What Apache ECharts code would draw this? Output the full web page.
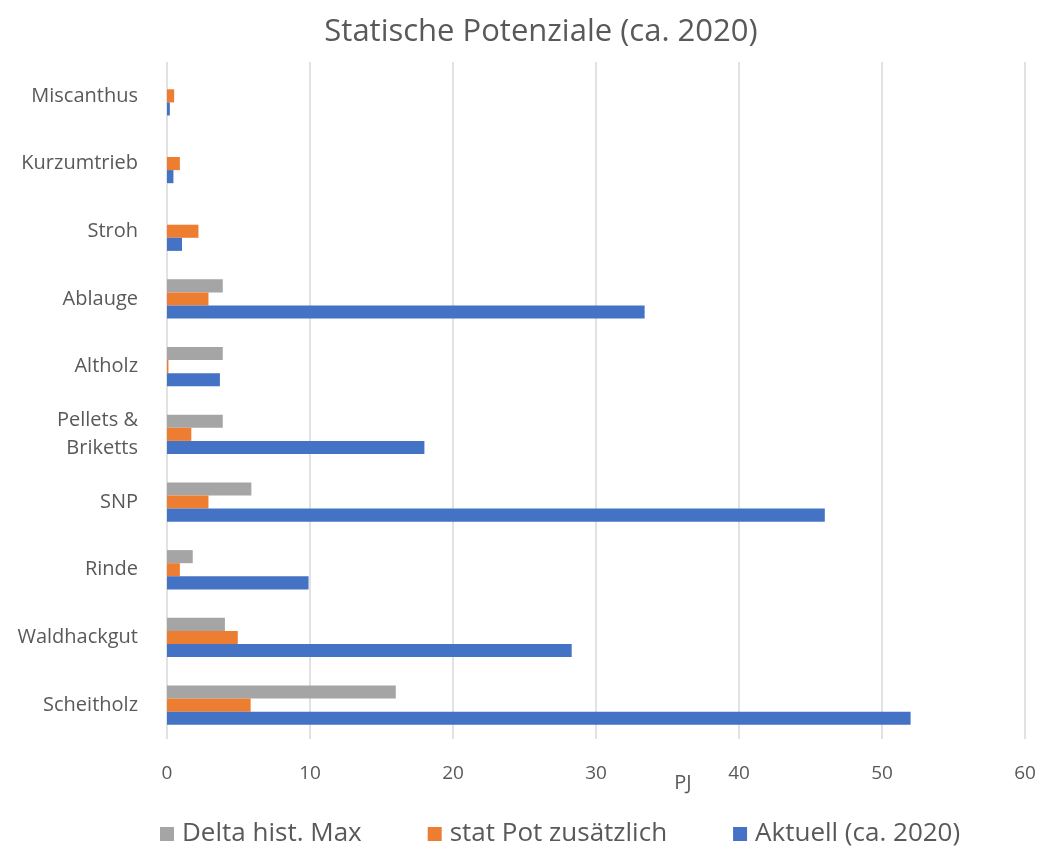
<!DOCTYPE html>
<html><head><meta charset="utf-8">
<script src="https://cdn.jsdelivr.net/npm/echarts@6/dist/echarts.min.js"></script>
<style>html,body{margin:0;padding:0;background:#fff}#c{width:1043px;height:850px}</style>
</head><body><div id="c"></div>
<script>
const categories = ['Miscanthus','Kurzumtrieb','Stroh','Ablauge','Altholz','Pellets &\nBriketts','SNP','Rinde','Waldhackgut','Scheitholz'];
const deltaHistMax = [null, null, null, 3.9, 3.9, 3.9, 5.9, 1.8, 4.05, 16.0];
const statPotZusaetzlich = [0.5, 0.9, 2.2, 2.9, 0.1, 1.7, 2.9, 0.9, 4.95, 5.85];
const aktuell = [0.2, 0.45, 1.05, 33.4, 3.7, 18.0, 46.0, 9.9, 28.3, 52.0];
const xTicks = [0, 10, 20, 30, 40, 50, 60];

const font = 'Open Sans';
const txt = '#595959';
const chart = echarts.init(document.getElementById('c'));
chart.setOption({
  animation: false,
  title: { text: 'Statische Potenziale (ca. 2020)', left: 536, textAlign: 'center', top: 12,
    textStyle: { fontFamily: font, fontSize: 31, fontWeight: 'normal', color: txt } },
  legend: { bottom: -2, left: 155, itemWidth: 14, itemHeight: 14, itemGap: 66,
    icon: 'rect', data: ['Delta hist. Max','stat Pot zusätzlich','Aktuell (ca. 2020)'],
    textStyle: { fontFamily: font, fontSize: 26, color: txt, padding: [0, 0, 0, 3] } },
  grid: { left: 167, right: 18, top: 62, bottom: 111, containLabel: false },
  xAxis: { type: 'value', min: xTicks[0], max: xTicks[xTicks.length-1], interval: 10,
    name: 'PJ', nameLocation: 'middle', nameGap: 34, nameMoveOverlap: false,
    nameTextStyle: { fontFamily: font, fontSize: 20, color: txt, padding: [0, 0, 0, 174] },
    axisLine: { show: false }, axisTick: { show: false },
    axisLabel: { fontFamily: font, fontSize: 19, color: txt, margin: 25 },
    splitLine: { lineStyle: { color: '#d9d9d9', width: 1.5 } } },
  yAxis: { type: 'category', inverse: true, data: categories,
    axisLine: { show: false }, axisTick: { show: false },
    axisLabel: { fontFamily: font, fontSize: 20, color: txt, margin: 29, align: 'right', lineHeight: 28 } },
  series: [
    { name: 'Delta hist. Max', type: 'bar', data: deltaHistMax, itemStyle: { color: '#a5a5a5' }, barGap: '0%', barCategoryGap: '42%' },
    { name: 'stat Pot zusätzlich', type: 'bar', data: statPotZusaetzlich, itemStyle: { color: '#ed7d31' }, barGap: '0%', barCategoryGap: '42%' },
    { name: 'Aktuell (ca. 2020)', type: 'bar', data: aktuell, itemStyle: { color: '#4472c4' }, barGap: '0%', barCategoryGap: '42%' }
  ]
});
</script></body></html>
